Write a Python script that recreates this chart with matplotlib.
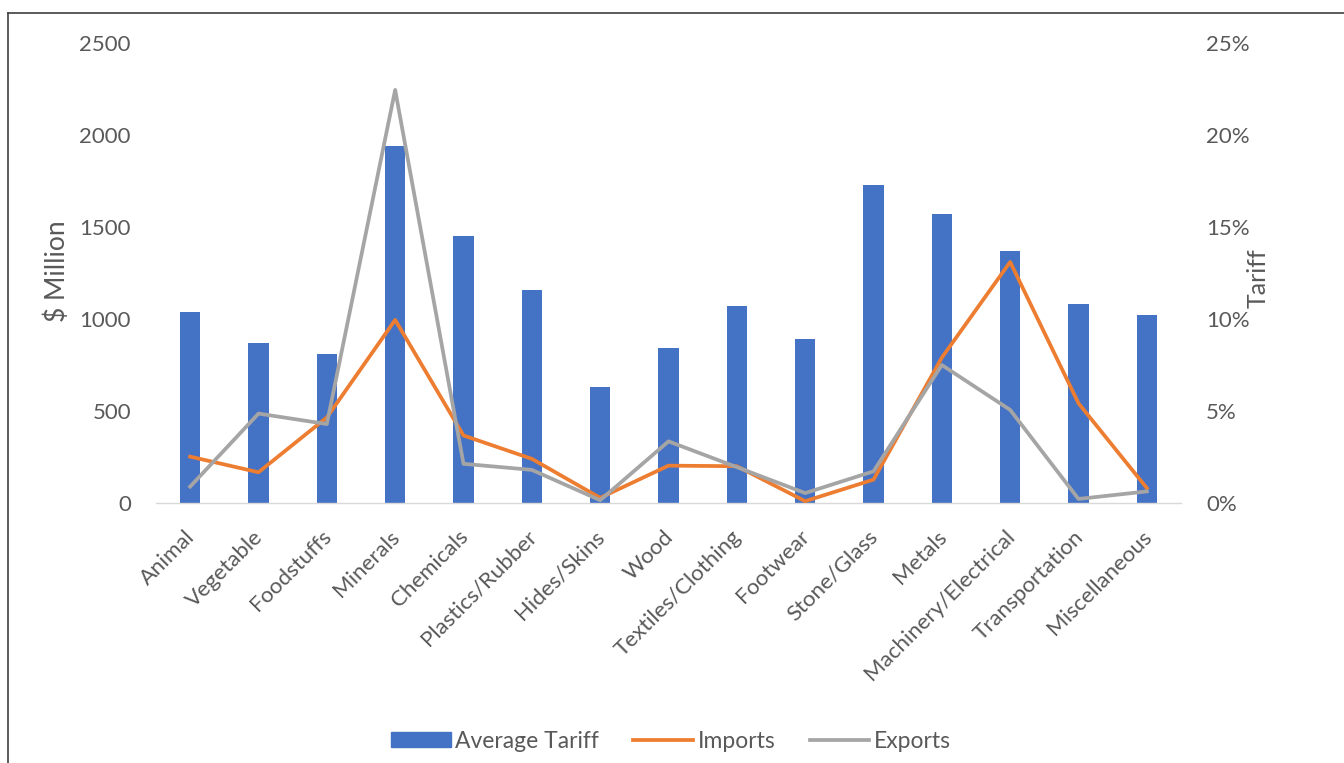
import matplotlib
matplotlib.use("Agg")
import matplotlib.pyplot as plt
from matplotlib.lines import Line2D
from matplotlib.ticker import FuncFormatter
from matplotlib.transforms import ScaledTranslation
import numpy as np

plt.rcParams['font.family'] = ['Lato', 'DejaVu Sans']

categories = ["Animal", "Vegetable", "Foodstuffs", "Minerals", "Chemicals",
              "Plastics/Rubber", "Hides/Skins", "Wood", "Textiles/Clothing",
              "Footwear", "Stone/Glass", "Metals", "Machinery/Electrical",
              "Transportation", "Miscellaneous"]
avg_tariff = [10.4, 8.7, 8.1, 19.4, 14.5, 11.6, 6.3, 8.4, 10.7, 8.9, 17.3, 15.7, 13.7, 10.8, 10.2]
imports = [252, 167, 465, 995, 367, 240, 28, 203, 200, 10, 127, 790, 1310, 542, 81]
exports = [89, 486, 429, 2245, 213, 180, 15, 335, 195, 54, 172, 750, 506, 22, 63]
left_ticks = [0, 500, 1000, 1500, 2000, 2500]
right_ticks = [0, 5, 10, 15, 20, 25]

W, H = 1344, 763
fig = plt.figure(figsize=(W / 100, H / 100), dpi=100)
fig.patch.set_facecolor("white")

ax = fig.add_axes([156 / W, 1 - 503 / H, (1181 - 156) / W, (503 - 43) / H])
ax2 = ax.twinx()

text_col = "#595959"
x = np.arange(len(categories))

ax2.bar(x, avg_tariff, width=0.30, color="#4472C4", label="Average Tariff", zorder=1)
ax.plot(x, imports, color="#ED7D31", lw=2.7, label="Imports", zorder=3, solid_joinstyle="round")
ax.plot(x, exports, color="#A5A5A5", lw=2.7, label="Exports", zorder=3, solid_joinstyle="round")

# lines above bars
ax.set_zorder(ax2.get_zorder() + 1)
ax.patch.set_visible(False)

ax.set_xlim(-0.5, len(categories) - 0.5)
ax.set_ylim(0, 2500)
ax2.set_ylim(0, 25)
ax.set_yticks(left_ticks)
ax2.set_yticks(right_ticks)
ax2.yaxis.set_major_formatter(FuncFormatter(lambda v, p: f"{int(v)}%"))

for a in (ax, ax2):
    for s in a.spines.values():
        s.set_visible(False)
ax.spines['bottom'].set_visible(True)
ax.spines['bottom'].set_color("#D9D9D9")
ax.spines['bottom'].set_linewidth(1.0)

ax.tick_params(axis='y', length=0, pad=18, labelsize=16, labelcolor=text_col)
ax2.tick_params(axis='y', length=0, pad=18, labelsize=16, labelcolor=text_col)
ax.set_xticks(x)
ax.set_xticklabels(categories, rotation=45, ha='right', va='top', rotation_mode='anchor',
                   fontsize=16, color=text_col)
ax.tick_params(axis='x', length=0, pad=17)
offset = ScaledTranslation(-4 / 72, 0, fig.dpi_scale_trans)
for lbl in ax.get_xticklabels():
    lbl.set_transform(lbl.get_transform() + offset)

fig.text(57 / W, 1 - 271 / H, "$ Million", rotation=90, ha='center', va='center',
         fontsize=19, color=text_col)
fig.text(1258 / W, 1 - 278 / H, "Tariff", rotation=90, ha='center', va='center',
         fontsize=18, color=text_col)

handles = [plt.Rectangle((0, 0), 1, 1, color="#4472C4"),
           Line2D([0], [0], color="#ED7D31", lw=2.7),
           Line2D([0], [0], color="#A5A5A5", lw=2.7)]
leg = fig.legend(handles, ["Average Tariff", "Imports", "Exports"], loc='center',
                 bbox_to_anchor=(671 / W, 1 - 741 / H), ncol=3, frameon=False,
                 fontsize=16.5, handlelength=2.6, handleheight=0.6, columnspacing=1.5,
                 handletextpad=0.2)
for t in leg.get_texts():
    t.set_color(text_col)

# figure frame (left and top edges)
fig.add_artist(Line2D([8 / W, 8 / W], [0, 1 - 13 / H], color="#404040", lw=1.2,
                      transform=fig.transFigure))
fig.add_artist(Line2D([8 / W, 1], [1 - 13 / H, 1 - 13 / H], color="#404040", lw=1.2,
                      transform=fig.transFigure))

fig.savefig("out.png", dpi=100)
